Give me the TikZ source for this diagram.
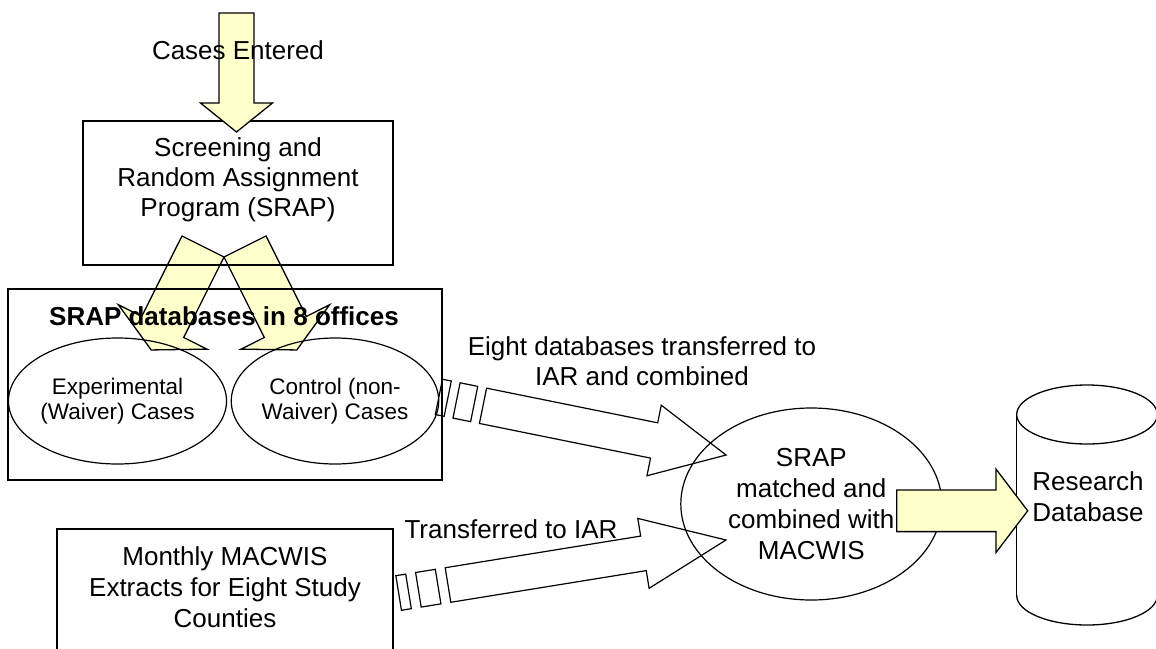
\documentclass[tikz,border=0pt]{standalone}
\usepackage{fontspec}
\setmainfont{Liberation Sans}
\usetikzlibrary{shapes.geometric}
\definecolor{ay}{RGB}{255,255,204}
\begin{document}
\begin{tikzpicture}[x=1pt,y=-1pt,
  lbl/.style={font=\fontsize{26}{30}\selectfont, align=center, inner sep=0pt},
  lbltall/.style={font=\fontsize{26}{31}\selectfont, align=center, inner sep=0pt},
  slbl/.style={font=\fontsize{22.5}{25.5}\selectfont, align=center, inner sep=0pt},
  boxline/.style={draw, line width=1.8pt, inner sep=0pt},
  oval/.style={draw, ellipse, line width=1.2pt, inner sep=0pt},
  yarrow/.style={draw, line width=1.3pt, fill=ay, line join=miter},
  warrow/.style={draw, line width=1.2pt, line join=miter},
  cyl/.style={draw, line width=1.3pt}]
\clip (0,0) rectangle (1156,648);

% split arrows (under the boxes)
\begin{scope}[shift={(203,246.5)}, rotate=-116.6]
  \draw[yarrow] (0,-23.5) -- (90,-23.5) -- (90,-49.5) -- (115.7,0) -- (90,49.5) -- (90,23.5) -- (0,23.5) -- cycle;
\end{scope}
\begin{scope}[shift={(245,246.5)}, rotate=-63.4]
  \draw[yarrow] (0,-23.5) -- (90,-23.5) -- (90,-49.5) -- (115.7,0) -- (90,49.5) -- (90,23.5) -- (0,23.5) -- cycle;
\end{scope}

% SRAP program box
\node[boxline, minimum width=310pt, minimum height=144pt] (srapbox) at (238,193) {};
\node[lbl] (srap) at (238,180) {Screening and\\Random Assignment\\Program (SRAP)};

% offices box
\node[boxline, minimum width=434pt, minimum height=191pt] (offices) at (225,384.5) {};
\node[lbl, font=\fontsize{26}{30}\selectfont\bfseries] (title) at (224,316) {SRAP databases in 8 offices};
\node[oval, slbl, minimum width=205pt, minimum height=126pt] (exp) at (117.5,401) {Experimental\\(Waiver) Cases};
\node[oval, slbl, minimum width=204pt, minimum height=126pt] (ctrl) at (335,401) {Control (non-\\Waiver) Cases};

% top arrow
\begin{scope}[shift={(236.5,13)}, rotate=-90]
  \draw[yarrow] (0,-17.5) -- (90,-17.5) -- (90,-36) -- (119,0) -- (90,36) -- (90,17.5) -- (0,17.5) -- cycle;
\end{scope}
\node[lbl] (entered) at (238,50) {Cases Entered};

% combined ellipse
\node[oval, lbltall, minimum width=261pt, minimum height=192pt] (combined) at (811.3,504) {SRAP\\matched and\\combined with\\MACWIS};

% MACWIS box
\node[boxline, minimum width=336.6pt, minimum height=151pt] (macwisbox) at (225,604.5) {};
\node[lbltall] (macwis) at (225,587) {Monthly MACWIS\\Extracts for Eight Study\\Counties};

% striped arrows
\begin{scope}[shift={(483,405.8)}, rotate=-11.45]
  \draw[warrow] (-45,-18) -- (-36,-18) -- (-36,18) -- (-45,18) -- cycle;
  \draw[warrow] (-27,-18) -- (-9,-18) -- (-9,18) -- (-27,18) -- cycle;
  \draw[warrow] (0,-18) -- (174.6,-18) -- (174.6,-36) -- (248,0) -- (174.6,36) -- (174.6,18) -- (0,18) -- cycle;
\end{scope}
\begin{scope}[shift={(448,585)}, rotate=9.2]
  \draw[warrow] (-50,-17.5) -- (-40,-17.5) -- (-40,17.5) -- (-50,17.5) -- cycle;
  \draw[warrow] (-30,-17.5) -- (-10,-17.5) -- (-10,17.5) -- (-30,17.5) -- cycle;
  \draw[warrow] (0,-17.5) -- (198,-17.5) -- (198,-35.4) -- (281.6,0) -- (198,35.4) -- (198,17.5) -- (0,17.5) -- cycle;
\end{scope}
\node[lbl] (eight) at (642,361) {Eight databases transferred to\\IAR and combined};
\node[lbl] (transf) at (511,529) {Transferred to IAR};

% research database cylinder
\coordinate (cyltop) at (1087,414.5);
\coordinate (cylbot) at (1087,595.5);
\draw[cyl] (cyltop) ellipse [x radius=70.3, y radius=29.5];
\draw[cyl] (1016.7,414.5) -- (1016.7,595.5);
\draw[cyl] (1157.3,414.5) -- (1157.3,595.5);
\begin{scope}
  \clip (1000,595.5) rectangle (1170,648);
  \draw[cyl] (cylbot) ellipse [x radius=70.3, y radius=29.5];
\end{scope}
\node[lbltall] (research) at (1088,497) {Research\\Database};

% arrow into the database
\begin{scope}[shift={(896.7,510.8)}]
  \draw[yarrow] (0,-20.8) -- (99.3,-20.8) -- (99.3,-41.7) -- (131,0) -- (99.3,41.7) -- (99.3,20.8) -- (0,20.8) -- cycle;
\end{scope}
\end{tikzpicture}
\end{document}
